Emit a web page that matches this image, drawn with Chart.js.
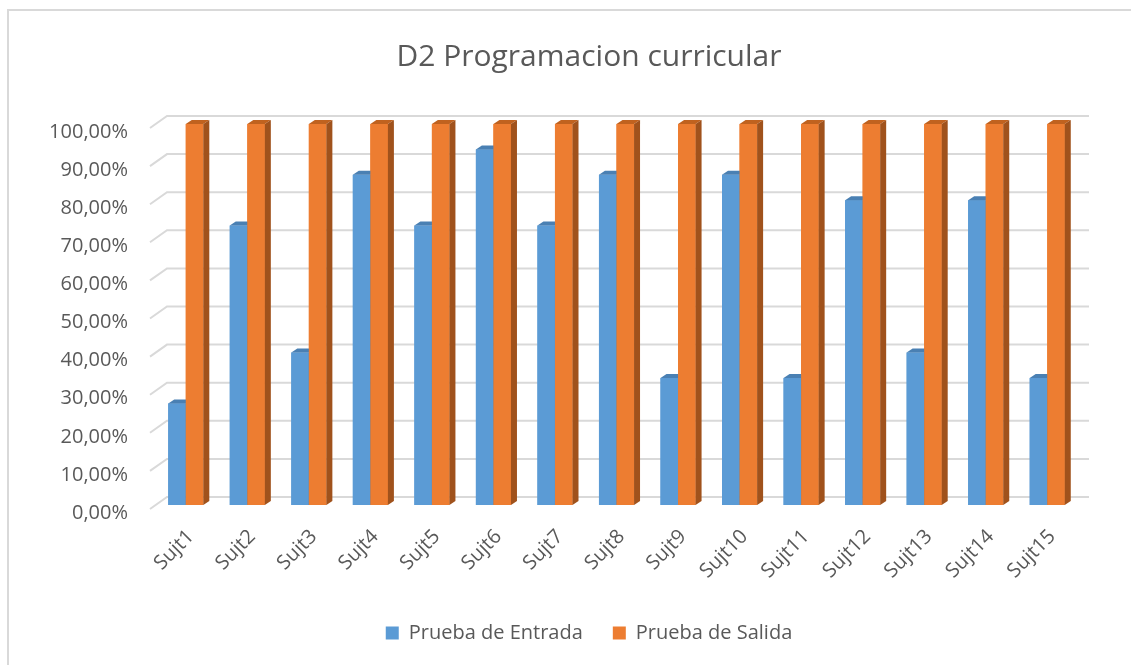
<!DOCTYPE html>
<html>
<head>
<meta charset="utf-8">
<script src="https://cdn.jsdelivr.net/npm/chart.js@4"></script>
<style>
  body { margin: 0; background: #fff; }
  #wrap { position: relative; width: 1131px; height: 665px; overflow: hidden; }
  #frame { position: absolute; left: 7px; top: 9px; width: 1140px; height: 670px; border: 2px solid #d9d9d9; box-sizing: border-box; }
  canvas { position: absolute; left: 0; top: 0; }
</style>
</head>
<body>
<div id="wrap">
  <div id="frame"></div>
  <canvas id="chart" width="1131" height="665"></canvas>
</div>
<script>
const sujetos = ["Sujt1","Sujt2","Sujt3","Sujt4","Sujt5","Sujt6","Sujt7","Sujt8","Sujt9","Sujt10","Sujt11","Sujt12","Sujt13","Sujt14","Sujt15"];
const entrada = [26.67, 73.33, 40, 86.67, 73.33, 93.33, 73.33, 86.67, 33.33, 86.67, 33.33, 80, 40, 80, 33.33];
const salida = [100, 100, 100, 100, 100, 100, 100, 100, 100, 100, 100, 100, 100, 100, 100];
const yTicks = [0, 10, 20, 30, 40, 50, 60, 70, 80, 90, 100];

const gray = "#595959";
const fontName = "'Open Sans', 'Noto Sans', sans-serif";

// colores de cara frontal, superior y lateral
const faces = [
  { front: "#5B9BD5", top: "#4A80B3", side: "#41719C" },
  { front: "#ED7D31", top: "#C0621F", side: "#A0521C" }
];

// pared del fondo: lineas de cuadricula con el tramo diagonal a la izquierda
const backWall = {
  id: "backWall",
  beforeDatasetsDraw(chart) {
    const ctx = chart.ctx;
    const y = chart.scales.y;
    ctx.save();
    ctx.strokeStyle = "#d9d9d9";
    ctx.lineWidth = 2;
    yTicks.forEach(v => {
      const py = y.getPixelForValue(v);
      ctx.beginPath();
      ctx.moveTo(150, py + 4);
      ctx.lineTo(167, py - 8);
      ctx.lineTo(1089, py - 8);
      ctx.stroke();
    });
    ctx.restore();
  }
};

// efecto 3D de las columnas
const bars3d = {
  id: "bars3d",
  afterDatasetsDraw(chart) {
    const ctx = chart.ctx;
    const dx = 6, dy = 4;
    const metas = [chart.getDatasetMeta(0), chart.getDatasetMeta(1)];
    ctx.save();
    for (let i = 0; i < sujetos.length; i++) {
      metas.forEach((meta, d) => {
        const bar = meta.data[i];
        const p = bar.getProps(["x", "y", "base", "width"], true);
        const l = p.x - p.width / 2, r = p.x + p.width / 2;
        ctx.fillStyle = faces[d].front;
        ctx.fillRect(l, p.y, p.width, p.base - p.y);
        ctx.fillStyle = faces[d].top;
        ctx.beginPath();
        ctx.moveTo(l, p.y);
        ctx.lineTo(l + dx, p.y - dy);
        ctx.lineTo(r + dx, p.y - dy);
        ctx.lineTo(r, p.y);
        ctx.closePath();
        ctx.fill();
        ctx.fillStyle = faces[d].side;
        ctx.beginPath();
        ctx.moveTo(r, p.y);
        ctx.lineTo(r + dx, p.y - dy);
        ctx.lineTo(r + dx, p.base - dy);
        ctx.lineTo(r, p.base);
        ctx.closePath();
        ctx.fill();
      });
    }
    ctx.restore();
  }
};

const ctx = document.getElementById("chart").getContext("2d");
new Chart(ctx, {
  type: "bar",
  data: {
    labels: sujetos,
    datasets: [
      { label: "Prueba de Entrada", data: entrada, backgroundColor: faces[0].front },
      { label: "Prueba de Salida", data: salida, backgroundColor: faces[1].front }
    ]
  },
  options: {
    responsive: false,
    animation: false,
    layout: { padding: { left: 47, right: 0, top: 0, bottom: 12 } },
    datasets: { bar: { categoryPercentage: 0.57, barPercentage: 1 } },
    plugins: {
      title: {
        display: true,
        text: "D2 Programacion curricular",
        color: gray,
        font: { family: fontName, size: 30, weight: "normal", lineHeight: 1.2 },
        padding: { top: 39, bottom: 49 }
      },
      legend: {
        position: "bottom",
        labels: {
          color: gray,
          font: { family: fontName, size: 20 },
          boxWidth: 13,
          boxHeight: 13,
          padding: 30
        }
      },
      tooltip: { enabled: false }
    },
    scales: {
      x: {
        grid: { display: false },
        border: { display: false },
        ticks: {
          color: gray,
          font: { family: fontName, size: 20 },
          maxRotation: 45,
          minRotation: 45,
          padding: 12,
          labelOffset: 5
        },
        afterFit(scale) { scale.height = 88; }
      },
      y: {
        min: 0,
        max: 100,
        grid: { display: false, drawTicks: false },
        border: { display: false },
        ticks: {
          stepSize: 10,
          color: gray,
          font: { family: fontName, size: 20 },
          padding: 27,
          labelOffset: 8,
          callback: v => v.toFixed(2).replace(".", ",") + "%"
        },
        afterFit(scale) { scale.width = 108; }
      },
      // margen derecho vacio
      yRight: {
        position: "right",
        display: true,
        grid: { display: false, drawTicks: false },
        border: { display: false },
        ticks: { display: false },
        afterFit(scale) { scale.width = 53; }
      }
    }
  },
  plugins: [backWall, bars3d]
});
</script>
</body>
</html>
